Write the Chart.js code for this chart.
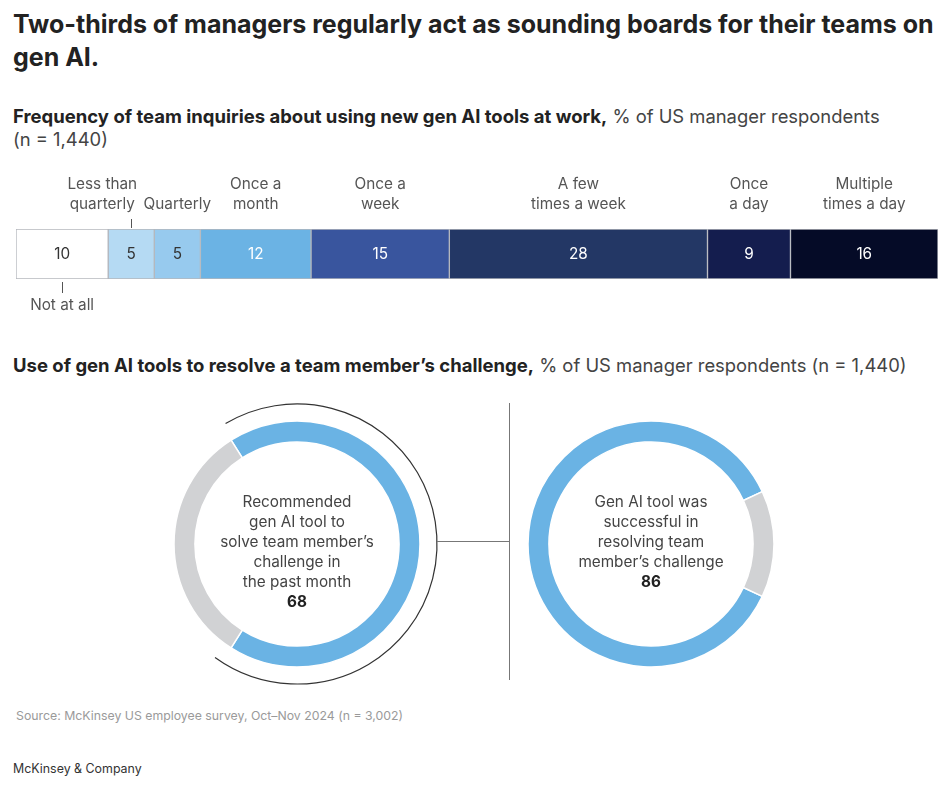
<!DOCTYPE html>
<html>
<head>
<meta charset="utf-8">
<script src="https://cdn.jsdelivr.net/npm/chart.js@4.4.1/dist/chart.umd.min.js"></script>
<style>
  html, body { margin:0; padding:0; background:#fff; }
  body { width:948px; height:792px; position:relative; overflow:hidden; font-family:"Inter", "Liberation Sans", Arial, sans-serif; color:#333; }
  .abs { position:absolute; }
  #title { left:13px; top:8px; width:935px; font-size:25px; font-weight:700; line-height:33px; color:#222; }
  .sub { left:13px; font-size:18.4px; line-height:23px; color:#444; white-space:nowrap; }
  .sub b { color:#222; font-size:18.5px; }
  #sub1 { top:105px; }
  #sub2 { top:354px; }
  .lbl { position:absolute; font-size:15.3px; line-height:20px; color:#555; text-align:center; white-space:nowrap; transform:translateX(-50%); }
  .val { position:absolute; font-size:15.3px; line-height:20px; text-align:center; white-space:nowrap; transform:translate(-50%,-50%); }
  .tick { position:absolute; width:1px; background:#555; }
  .ctext { position:absolute; font-size:15.3px; line-height:20px; color:#444; text-align:center; white-space:nowrap; transform:translateX(-50%); }
  .ctext b { color:#222; }
  #source { left:16px; top:708px; font-size:12.3px; line-height:16px; color:#9a9a9a; }
  #brand { left:13px; top:761px; font-size:12.4px; line-height:16px; color:#333; }
  canvas { position:absolute; }
</style>
</head>
<body>
<div id="title" class="abs">Two-thirds of managers regularly act as sounding boards for their teams on gen AI.</div>
<div id="sub1" class="abs sub"><b>Frequency of team inquiries about using new gen AI tools at work,</b> % of US manager respondents<br>(n = 1,440)</div>
<div id="sub2" class="abs sub"><b>Use of gen AI tools to resolve a team member’s challenge,</b> % of US manager respondents (n = 1,440)</div>
<canvas id="bar" width="948" height="150" style="left:0;top:170px;width:948px;height:150px"></canvas>
<canvas id="d1" width="370" height="300" style="left:147px;top:394px;width:370px;height:300px"></canvas>
<canvas id="d2" width="300" height="300" style="left:501px;top:394px;width:300px;height:300px"></canvas>
<div id="source" class="abs">Source: McKinsey US employee survey, Oct–Nov 2024 (n = 3,002)</div>
<div id="brand" class="abs">McKinsey &amp; Company</div>
<script>
// ---- data ----
const categories = [
  ['Not at all'],
  ['Less than', 'quarterly'],
  ['Quarterly'],
  ['Once a', 'month'],
  ['Once a', 'week'],
  ['A few', 'times a week'],
  ['Once', 'a day'],
  ['Multiple', 'times a day']
];
const frequencyValues = [10, 5, 5, 12, 15, 28, 9, 16];
const donutLabels = ['Yes', 'No'];
const recommendedValues = [68, 32];
const successfulValues = [86, 14];
const recommendedText = ['Recommended', 'gen AI tool to', 'solve team member’s', 'challenge in', 'the past month'];
const successfulText = ['Gen AI tool was', 'successful in', 'resolving team', 'member’s challenge'];

// ---- styles ----
const barColors = ['#ffffff', '#b5daf3', '#97caee', '#6bb3e4', '#39559e', '#233765', '#141d4e', '#050b27'];
const valColors = ['#333', '#333', '#333', '#fff', '#fff', '#fff', '#fff', '#fff'];
const BLUE = '#6ab3e4', GREY = '#d1d2d4';

function el(cls, html, style) {
  const d = document.createElement('div');
  d.className = cls; d.innerHTML = html;
  Object.assign(d.style, style);
  document.body.appendChild(d);
  return d;
}

// ---- stacked bar ----
const barCanvas = document.getElementById('bar');
const barOffX = 0, barOffY = 170;
let barLabelsDone = false;
const barLabelPlugin = {
  id: 'barLabels',
  afterDraw(chart) {
    if (barLabelsDone) return;
    barLabelsDone = true;
    chart.data.datasets.forEach((ds, i) => {
      const bar = chart.getDatasetMeta(i).data[0];
      const cx = barOffX + (bar.x + bar.base) / 2;
      const cy = barOffY + bar.y;
      const top = barOffY + bar.y - bar.height / 2;
      const bottom = barOffY + bar.y + bar.height / 2;
      el('val', String(ds.data[0]), { left: cx + 'px', top: cy + 'px', color: valColors[i] });
      const lines = categories[i];
      if (i === 0) {
        el('tick', '', { left: cx + 'px', top: (bottom + 3) + 'px', height: '11px' });
        el('lbl', lines.join('<br>'), { left: cx + 'px', top: (bottom + 16) + 'px' });
      } else if (i === 1) {
        el('tick', '', { left: cx + 'px', top: (top - 10) + 'px', height: '9px' });
        el('lbl', lines.join('<br>'), { left: (cx - 29) + 'px', top: (top - 55) + 'px' });
      } else {
        const h = lines.length * 20;
        el('lbl', lines.join('<br>'), { left: cx + 'px', top: (top - 15 - h) + 'px' });
      }
    });
  }
};
new Chart(barCanvas, {
  type: 'bar',
  data: {
    labels: ['Frequency'],
    datasets: categories.map((c, i) => ({
      label: c.join(' '),
      data: [frequencyValues[i]],
      backgroundColor: barColors[i],
      borderColor: '#b4b7bd',
      borderWidth: 1,
      borderSkipped: false,
      barThickness: 50
    }))
  },
  options: {
    indexAxis: 'y',
    responsive: false,
    animation: false,
    events: [],
    layout: { padding: { left: 16, right: 10, top: 59, bottom: 41 } },
    scales: {
      x: { stacked: true, min: 0, max: 100, display: false },
      y: { stacked: true, display: false }
    },
    plugins: { legend: { display: false }, tooltip: { enabled: false } }
  },
  plugins: [barLabelPlugin]
});

// ---- doughnuts ----
function centerText(chart, offX, offY, lines, value) {
  const arc = chart.getDatasetMeta(0).data[0];
  el('ctext', lines.join('<br>') + '<br><b>' + value + '</b>', {
    left: (offX + arc.x) + 'px', top: (offY + arc.y - 52) + 'px'
  });
}

let d1Done = false;
const outlinePlugin = {
  id: 'outline',
  afterDraw(chart) {
    const arc = chart.getDatasetMeta(0).data[0];
    const ctx = chart.ctx;
    const r = arc.outerRadius + 17;
    ctx.save();
    ctx.strokeStyle = '#333';
    ctx.lineWidth = 1.2;
    ctx.beginPath();
    ctx.arc(arc.x, arc.y, r, arc.startAngle + 0.03, arc.endAngle + 0.06);
    ctx.stroke();
    // connector
    ctx.strokeStyle = '#777';
    ctx.lineWidth = 1;
    ctx.beginPath();
    ctx.moveTo(arc.x + r, arc.y - 2.5);
    ctx.lineTo(362.5, arc.y - 2.5);
    ctx.stroke();
    // divider
    ctx.beginPath();
    ctx.moveTo(362.5, 9);
    ctx.lineTo(362.5, 286);
    ctx.stroke();
    ctx.restore();
    if (!d1Done) { d1Done = true; centerText(chart, 147, 394, recommendedText, recommendedValues[0]); }
  }
};

new Chart(document.getElementById('d1'), {
  type: 'doughnut',
  data: {
    labels: donutLabels,
    datasets: [{ data: recommendedValues, backgroundColor: [BLUE, GREY], borderColor: '#fff', borderWidth: 1.5 }]
  },
  options: {
    responsive: false, animation: false, events: [],
    radius: 123, cutout: '83%',
    rotation: 90 - recommendedValues[0] / (recommendedValues[0] + recommendedValues[1]) * 180,
    layout: { padding: { right: 70 } },
    plugins: { legend: { display: false }, tooltip: { enabled: false } }
  },
  plugins: [outlinePlugin]
});

let d2Done = false;
new Chart(document.getElementById('d2'), {
  type: 'doughnut',
  data: {
    labels: donutLabels,
    datasets: [{ data: successfulValues, backgroundColor: [BLUE, GREY], borderColor: '#fff', borderWidth: 1.5 }]
  },
  options: {
    responsive: false, animation: false, events: [],
    radius: 123, cutout: '83%',
    rotation: 90 + successfulValues[1] / (successfulValues[0] + successfulValues[1]) * 180,
    plugins: { legend: { display: false }, tooltip: { enabled: false } }
  },
  plugins: [{ id: 'c2', afterDraw(chart) { if (!d2Done) { d2Done = true; centerText(chart, 501, 394, successfulText, successfulValues[0]); } } }]
});
</script>
</body>
</html>
